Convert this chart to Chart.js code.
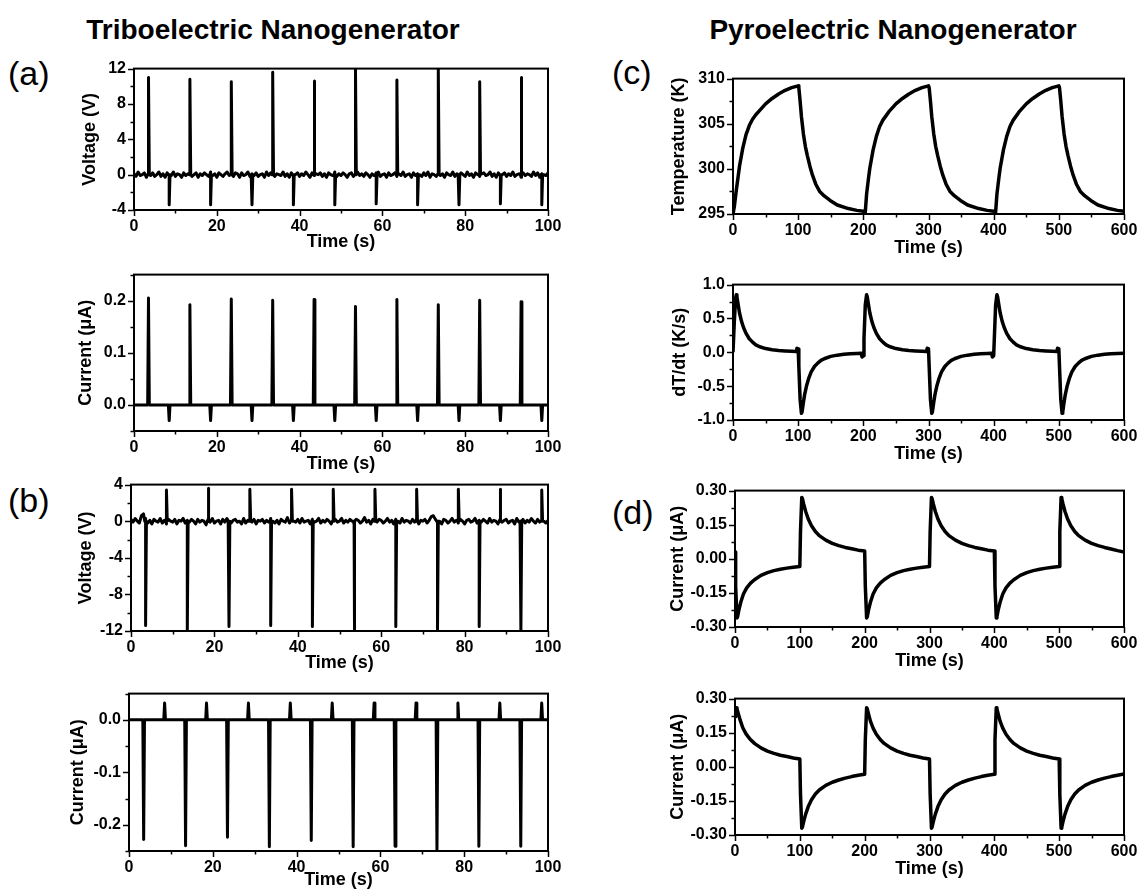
<!DOCTYPE html>
<html>
<head>
<meta charset="utf-8">
<script src="https://cdn.jsdelivr.net/npm/chart.js@4.4.1/dist/chart.umd.min.js"></script>
<style>
  body { margin: 0; background: #fff; width: 1145px; height: 890px; position: relative; overflow: hidden;
         font-family: "Liberation Sans", Arial, sans-serif; color: #000; }
  .hdr { position: absolute; font-weight: bold; font-size: 28px; transform: translate(-50%, -50%); white-space: nowrap; }
  .tag { position: absolute; font-size: 34px; transform: translateY(-50%); }
  canvas { position: absolute; }
</style>
</head>
<body>
<div class="hdr" style="left:273px; top:30px">Triboelectric Nanogenerator</div>
<div class="hdr" style="left:893px; top:30px">Pyroelectric Nanogenerator</div>
<div class="tag" style="left:8px; top:73px">(a)</div>
<div class="tag" style="left:8px; top:500px">(b)</div>
<div class="tag" style="left:612px; top:72px">(c)</div>
<div class="tag" style="left:612px; top:512px">(d)</div>

<script>
const FONT = '"Liberation Sans", Arial, sans-serif';

// tick labels
const triTimeTicks = [0, 20, 40, 60, 80, 100];
const pyroTimeTicks = [0, 100, 200, 300, 400, 500, 600];
const triVoltTicks = [-4, 0, 4, 8, 12];
const triCurTicks = [0, 0.1, 0.2];
const revVoltTicks = [-12, -8, -4, 0, 4];
const revCurTicks = [-0.2, -0.1, 0];
const tempTicks = [295, 300, 305, 310];
const rateTicks = [-1, -0.5, 0, 0.5, 1];
const pyroCurTicks = [-0.3, -0.15, 0, 0.15, 0.3];

// spike times (s)
const pulseA = [3.5, 13.5, 23.5, 33.5, 43.5, 53.5, 63.5, 73.5, 83.5, 93.5];
const pulseB = [8.5, 18.5, 28.5, 38.5, 48.5, 58.5, 68.5, 78.5, 88.5, 98.5];

// (a) triboelectric, voltage
const triVoltUp = [11.0, 10.8, 10.5, 11.6, 10.6, 12.0, 10.7, 12.0, 10.5, 11.0];
const triVoltDown = [-3.4, -3.4, -3.4, -3.4, -3.4, -3.3, -3.4, -3.4, -3.3, -3.4];
const triVoltNoise = [
  0.1,-0.2,0.3,-0.1,0.0,0.2,-0.3,0.1,-0.1,0.2, -0.2,0.0,0.3,-0.2,0.1,-0.3,0.2,0.0,-0.1,0.3,
  -0.2,0.1,0.0,-0.3,0.2,-0.1,0.1,0.3,-0.2,0.0, 0.2,-0.3,0.1,-0.1,0.2,0.0,-0.2,0.3,-0.1,0.1,
  -0.3,0.2,0.0,-0.2,0.1,0.3,-0.1,0.0,-0.2,0.2, 0.1,-0.3,0.2,-0.1,0.0,0.3,-0.2,0.1,-0.1,0.2,
  -0.2,0.0,0.1,-0.3,0.3,-0.1,0.2,0.0,-0.2,0.1, 0.0,-0.1,0.3,-0.2,0.1,-0.3,0.2,-0.1,0.0,0.2,
  -0.2,0.1,-0.1,0.3,0.0,-0.3,0.2,-0.1,0.1,0.0, 0.2,-0.2,0.1,-0.3,0.2,0.0,-0.1,0.3,-0.2,0.1,
  -0.1,0.2,0.0,-0.3,0.1,0.2,-0.2,0.0,0.3,-0.1, 0.1,-0.2,0.2,0.0,-0.3,0.1,-0.1,0.2,0.3,-0.2,
  0.0,0.1,-0.3,0.2,-0.1,0.0,0.2,-0.2,0.1,-0.1, 0.3,-0.2,0.0,0.1,-0.3,0.2,-0.1,0.1,0.0,-0.2,
  0.2,-0.1,0.3,-0.3,0.1,0.0,-0.2,0.2,-0.1,0.1, -0.3,0.2,0.0,-0.1,0.3,-0.2,0.1,-0.1,0.2,0.0,
  -0.2,0.3,-0.1,0.1,-0.3,0.2,0.0,-0.2,0.1,0.2, -0.1,0.0,0.3,-0.2,0.1,-0.3,0.2,-0.1,0.0,0.2,
  -0.2,0.1,-0.1,0.3,-0.2,0.0,0.1,-0.3,0.2,-0.1, 0.1,0.0,-0.2,0.3,-0.1,0.2,-0.3,0.1,0.0,-0.1,
  0.2];

// (a) triboelectric, current
const triCurUp = [0.205, 0.192, 0.203, 0.201, 0.202, 0.189, 0.202, 0.192, 0.201, 0.198];
const triCurDown = [-0.03, -0.03, -0.03, -0.03, -0.03, -0.03, -0.03, -0.03, -0.03, -0.03];

// (b) reversed, voltage
const revVoltDown = [-11.4, -12.0, -11.5, -11.4, -11.5, -12.0, -11.5, -12.0, -11.5, -12.0];
const revVoltUp = [3.4, 3.6, 3.5, 3.5, 3.5, 3.5, 3.5, 3.5, 3.5, 3.4];
const revVoltNoise = [
  0.2,-0.1,0.3,0.0,-0.2,0.6,0.8,0.3,-0.2,0.1, -0.3,0.2,0.0,-0.1,0.3,-0.2,0.1,-0.3,0.2,0.0,
  -0.1,0.2,-0.3,0.1,0.0,0.3,-0.2,0.1,-0.1,0.2, 0.0,-0.3,0.2,-0.1,0.1,0.0,-0.4,0.2,-0.1,0.3,
  -0.2,0.0,0.1,-0.3,0.2,-0.1,0.3,0.0,-0.2,0.1, 0.2,-0.1,0.0,-0.3,0.3,-0.2,0.1,0.0,-0.1,0.2,
  -0.3,0.1,0.0,0.2,-0.2,0.1,-0.1,0.3,0.0,-0.2, 0.1,-0.3,0.2,0.0,-0.1,0.4,-0.2,0.1,0.0,-0.1,
  0.2,-0.2,0.3,-0.1,0.0,0.1,-0.3,0.2,-0.1,0.0, 0.3,-0.2,0.1,-0.1,0.2,0.0,-0.3,0.1,0.2,-0.1,
  0.0,0.3,-0.2,0.1,-0.1,0.2,0.0,-0.3,0.2,0.1, -0.2,0.0,0.4,-0.1,0.1,-0.3,0.2,0.0,-0.1,0.2,
  0.1,-0.2,0.0,0.3,-0.1,0.1,-0.3,0.2,0.0,-0.2, 0.3,-0.1,0.1,0.0,-0.2,0.2,-0.1,0.3,-0.3,0.1,
  0.0,0.2,-0.2,0.1,0.5,0.6,0.2,-0.1,0.0,-0.3, 0.2,0.1,-0.2,0.0,0.3,-0.1,0.1,-0.2,0.2,0.0,
  -0.3,0.1,0.2,-0.1,0.0,0.3,-0.2,0.1,-0.1,0.2, 0.0,-0.2,0.3,-0.1,0.1,0.0,-0.3,0.2,-0.1,0.1,
  0.2,-0.2,0.0,0.1,-0.3,0.3,-0.1,0.0,0.2,-0.2, 0.1,-0.1,0.3,0.0,-0.2,0.2,-0.1,0.1,0.0,-0.2,
  0.1];

// (b) reversed, current
const revCurDown = [-0.228, -0.240, -0.224, -0.242, -0.230, -0.242, -0.241, -0.250, -0.241, -0.241];
const revCurUp = [0.032, 0.032, 0.032, 0.032, 0.032, 0.032, 0.032, 0.032, 0.032, 0.032];

// (c) temperature (s, K)
const tempK = [
  [0,295.0],[2,295.8],[5,297.6],[8,299.2],[10,300.3],[12,301.1],[15,302.3],[20,303.8],[25,304.8],[30,305.5],
  [35,306.0],[40,306.4],[50,307.2],[60,307.8],[70,308.3],[80,308.7],[90,309.0],[100,309.2],
  [101,309.0],[103,307.5],[105,305.8],[108,303.9],[111,302.5],[114,301.5],[118,300.3],[122,299.3],[127,298.3],
  [133,297.5],[140,297.0],[149,296.5],[160,296.0],[177,295.6],[190,295.4],[200,295.3],
  [203,295.2],[205,297.2],[208,299.0],[210,300.1],[212,300.9],[215,302.1],[220,303.6],[225,304.7],[230,305.4],
  [235,305.9],[240,306.4],[250,307.2],[260,307.8],[270,308.3],[280,308.7],[290,309.0],[300,309.2],
  [301,309.0],[303,307.5],[305,305.8],[308,303.9],[311,302.5],[314,301.5],[318,300.3],[322,299.3],[327,298.3],
  [333,297.5],[340,297.0],[349,296.5],[360,296.0],[377,295.6],[390,295.4],[400,295.3],
  [403,295.2],[405,297.2],[408,299.0],[410,300.1],[412,300.9],[415,302.1],[420,303.6],[425,304.7],[430,305.4],
  [435,305.9],[440,306.4],[450,307.2],[460,307.8],[470,308.3],[480,308.7],[490,309.0],[500,309.2],
  [501,309.0],[503,307.5],[505,305.8],[508,303.9],[511,302.5],[514,301.5],[518,300.3],[522,299.3],[527,298.3],
  [533,297.5],[540,297.0],[549,296.5],[560,296.0],[577,295.6],[590,295.4],[600,295.3]
];

// (c) dT/dt (s, K/s)
const rateKs = [
  [0,0.0],[2,0.45],[4,0.8],[5,0.85],[6,0.82],[8,0.7],[10,0.58],[13,0.46],[16,0.37],[20,0.28],[25,0.2],
  [30,0.15],[35,0.11],[40,0.085],[50,0.055],[60,0.037],[70,0.027],[80,0.02],[90,0.015],[97,0.012],[98,0.06],[100,0.05],
  [101,-0.2],[103,-0.7],[105,-0.9],[106,-0.88],[108,-0.74],[110,-0.62],[113,-0.49],[116,-0.39],[120,-0.29],[125,-0.21],
  [130,-0.16],[135,-0.12],[140,-0.095],[150,-0.06],[160,-0.042],[170,-0.03],[180,-0.022],[190,-0.017],[197,-0.013],[198,-0.07],[200,-0.05],
  [201,0.2],[203,0.7],[205,0.85],[206,0.82],[208,0.7],[210,0.58],[213,0.46],[216,0.37],[220,0.28],[225,0.2],
  [230,0.15],[235,0.11],[240,0.085],[250,0.055],[260,0.037],[270,0.027],[280,0.02],[290,0.015],[297,0.012],[298,0.06],[300,0.05],
  [301,-0.2],[303,-0.7],[305,-0.9],[306,-0.88],[308,-0.74],[310,-0.62],[313,-0.49],[316,-0.39],[320,-0.29],[325,-0.21],
  [330,-0.16],[335,-0.12],[340,-0.095],[350,-0.06],[360,-0.042],[370,-0.03],[380,-0.022],[390,-0.017],[397,-0.013],[398,-0.07],[400,-0.05],
  [401,0.2],[403,0.7],[405,0.85],[406,0.82],[408,0.7],[410,0.58],[413,0.46],[416,0.37],[420,0.28],[425,0.2],
  [430,0.15],[435,0.11],[440,0.085],[450,0.055],[460,0.037],[470,0.027],[480,0.02],[490,0.015],[497,0.012],[498,0.06],[500,0.05],
  [501,-0.2],[503,-0.7],[505,-0.9],[506,-0.88],[508,-0.74],[510,-0.62],[513,-0.49],[516,-0.39],[520,-0.29],[525,-0.21],
  [530,-0.16],[535,-0.12],[540,-0.095],[550,-0.06],[560,-0.042],[570,-0.03],[580,-0.022],[590,-0.017],[600,-0.015]
];

// (d) pyroelectric current, forward (s, uA)
const pyroCurFwd = [
  [0,0.03],[1,-0.12],[3,-0.26],[4,-0.255],[6,-0.225],[9,-0.19],[13,-0.155],[18,-0.128],[24,-0.107],[30,-0.092],
  [40,-0.073],[50,-0.061],[60,-0.052],[70,-0.046],[80,-0.041],[90,-0.037],[100,-0.034],
  [101,0.12],[103,0.27],[104,0.265],[106,0.24],[109,0.208],[113,0.175],[118,0.145],[124,0.12],[130,0.102],
  [140,0.082],[150,0.068],[160,0.058],[170,0.05],[180,0.044],[190,0.038],[200,0.034],
  [201,-0.12],[203,-0.26],[204,-0.255],[206,-0.225],[209,-0.19],[213,-0.155],[218,-0.128],[224,-0.107],[230,-0.092],
  [240,-0.073],[250,-0.061],[260,-0.052],[270,-0.046],[280,-0.041],[290,-0.037],[300,-0.034],
  [301,0.12],[303,0.27],[304,0.265],[306,0.24],[309,0.208],[313,0.175],[318,0.145],[324,0.12],[330,0.102],
  [340,0.082],[350,0.068],[360,0.058],[370,0.05],[380,0.044],[390,0.038],[400,0.034],
  [401,-0.12],[403,-0.26],[404,-0.255],[406,-0.225],[409,-0.19],[413,-0.155],[418,-0.128],[424,-0.107],[430,-0.092],
  [440,-0.073],[450,-0.061],[460,-0.052],[470,-0.046],[480,-0.041],[490,-0.037],[500,-0.034],
  [501,0.12],[503,0.27],[504,0.265],[506,0.24],[509,0.208],[513,0.175],[518,0.145],[524,0.12],[530,0.102],
  [540,0.082],[550,0.068],[560,0.058],[570,0.05],[580,0.043],[590,0.036],[600,0.03]
];

// (d) pyroelectric current, reversed connection (s, uA)
const pyroCurRev = [
  [0,0.22],[1,0.25],[2,0.26],[3,0.255],[5,0.235],[8,0.205],[12,0.172],[17,0.145],[23,0.122],[30,0.103],
  [40,0.083],[50,0.069],[60,0.059],[70,0.051],[80,0.045],[90,0.039],[100,0.034],
  [101,-0.12],[103,-0.27],[104,-0.265],[106,-0.24],[109,-0.208],[113,-0.175],[118,-0.145],[124,-0.12],[130,-0.102],
  [140,-0.082],[150,-0.068],[160,-0.058],[170,-0.05],[180,-0.043],[190,-0.037],[200,-0.033],
  [201,0.12],[203,0.26],[204,0.255],[206,0.232],[209,0.2],[213,0.17],[218,0.143],[224,0.12],[230,0.103],
  [240,0.083],[250,0.069],[260,0.059],[270,0.051],[280,0.045],[290,0.039],[300,0.034],
  [301,-0.12],[303,-0.27],[304,-0.265],[306,-0.24],[309,-0.208],[313,-0.175],[318,-0.145],[324,-0.12],[330,-0.102],
  [340,-0.082],[350,-0.068],[360,-0.058],[370,-0.05],[380,-0.043],[390,-0.037],[400,-0.033],
  [401,0.12],[403,0.26],[404,0.255],[406,0.232],[409,0.2],[413,0.17],[418,0.143],[424,0.12],[430,0.103],
  [440,0.083],[450,0.069],[460,0.059],[470,0.051],[480,0.045],[490,0.039],[500,0.034],
  [501,-0.12],[503,-0.27],[504,-0.265],[506,-0.24],[509,-0.208],[513,-0.175],[518,-0.145],[524,-0.12],[530,-0.102],
  [540,-0.082],[550,-0.068],[560,-0.058],[570,-0.05],[580,-0.043],[590,-0.037],[600,-0.032]
];

// baseline + narrow pulses -> sorted point list
function pulseTrain(baseline, upT, upV, downT, downV) {
  const n = baseline.length;
  const pts = baseline.map((v, i) => [i * 100 / (n - 1), v]);
  upT.forEach((t, i) => pts.push([t - 0.2, 0], [t, upV[i]], [t + 0.2, 0]));
  downT.forEach((t, i) => pts.push([t - 0.2, 0], [t, downV[i]], [t + 0.2, 0]));
  return pts.sort((a, b) => a[0] - b[0]);
}

// box frame + outward major/minor ticks
const frame = {
  id: 'frame',
  afterDraw(chart, args, o) {
    const { ctx, chartArea: a, scales: { x, y } } = chart;
    ctx.save();
    ctx.strokeStyle = '#000';
    ctx.lineWidth = 1.5;
    const isMajor = (v, m) => Math.abs(v / m - Math.round(v / m)) < 1e-6;
    for (let k = 0; ; k++) {
      const v = x.min + k * o.xMinor;
      if (v > x.max + 1e-9) break;
      const px = Math.round(x.getPixelForValue(v)) + 0.5;
      ctx.beginPath(); ctx.moveTo(px, a.bottom);
      ctx.lineTo(px, a.bottom + (isMajor(v, o.xMajor) ? 6 : 3.5)); ctx.stroke();
    }
    for (let k = 0; ; k++) {
      const v = y.min + k * o.yMinor;
      if (v > y.max + 1e-9) break;
      const py = Math.round(y.getPixelForValue(v)) + 0.5;
      ctx.beginPath(); ctx.moveTo(a.left, py);
      ctx.lineTo(a.left - (isMajor(v, o.yMajor) ? 6 : 3.5), py); ctx.stroke();
    }
    ctx.lineWidth = 2;
    ctx.strokeRect(a.left, a.top, a.right - a.left, a.bottom - a.top);
    ctx.restore();
  }
};

function makePanel(p) {
  const lh = 18 * 1.2;
  const cl = p.yTitleX - 14, ct = p.box.t - 14, cr = p.box.r + 30, cb = p.xTitleY + 14;
  const cv = document.createElement('canvas');
  cv.width = cr - cl; cv.height = cb - ct;
  cv.style.left = cl + 'px'; cv.style.top = ct + 'px';
  document.body.appendChild(cv);
  const yw = p.box.l - cl, xh = cb - p.box.b;
  const tickFont = { family: FONT, size: 16, weight: 'bold' };
  const titleFont = { family: FONT, size: 18, weight: 'bold' };
  const xMajor = p.xTicks[1] - p.xTicks[0], yMajor = p.yTicks[1] - p.yTicks[0];
  new Chart(cv, {
    type: 'line',
    data: {
      datasets: [{
        data: p.pts.map(q => ({ x: q[0], y: q[1] })),
        borderColor: '#000', borderWidth: p.lw, pointRadius: 0,
        borderJoinStyle: 'round', tension: 0
      }]
    },
    options: {
      responsive: false, animation: false, events: [],
      layout: { padding: { top: 14, right: 30, left: 0, bottom: 0 } },
      plugins: {
        legend: { display: false }, tooltip: { enabled: false },
        frame: { xMinor: xMajor / 2, xMajor: xMajor, yMinor: yMajor / 2, yMajor: yMajor }
      },
      scales: {
        x: {
          type: 'linear', min: p.xTicks[0], max: p.xTicks[p.xTicks.length - 1],
          afterBuildTicks: s => { s.ticks = p.xTicks.map(v => ({ value: v })); },
          afterFit: s => { s.height = xh; },
          grid: { drawOnChartArea: false, drawTicks: false }, border: { display: false },
          ticks: { padding: 7, color: '#000', font: tickFont, maxRotation: 0, autoSkip: false },
          title: { display: true, text: 'Time (s)', color: '#000', font: titleFont, padding: { top: 0, bottom: 14 - lh / 2 } }
        },
        y: {
          min: p.yMin, max: p.yMax,
          afterBuildTicks: s => { s.ticks = p.yTicks.map(v => ({ value: v })); },
          afterFit: s => { s.width = yw; },
          grid: { drawOnChartArea: false, drawTicks: false }, border: { display: false },
          ticks: {
            padding: 8, color: '#000', font: tickFont, autoSkip: false,
            callback: v => (Math.abs(v) < 1e-9 ? 0 : v).toFixed(p.yDec)
          },
          title: { display: true, text: p.yLabel, color: '#000', font: titleFont, padding: { top: 14 - lh / 2, bottom: 0 } }
        }
      }
    },
    plugins: [frame]
  });
}

makePanel({ box: { l: 134, t: 65, r: 548, b: 210 }, yTitleX: 90, xTitleY: 242,
  pts: pulseTrain(triVoltNoise, pulseA, triVoltUp, pulseB, triVoltDown), lw: 3,
  xTicks: triTimeTicks, yTicks: triVoltTicks, yMin: -4, yMax: 12, yDec: 0, yLabel: 'Voltage (V)' });

makePanel({ box: { l: 134, t: 271, r: 548, b: 431 }, yTitleX: 86, xTitleY: 464,
  pts: pulseTrain([0, 0], pulseA, triCurUp, pulseB, triCurDown), lw: 3,
  xTicks: triTimeTicks, yTicks: triCurTicks, yMin: -0.05, yMax: 0.25, yDec: 1, yLabel: 'Current (\u03bcA)' });

makePanel({ box: { l: 131, t: 481, r: 548, b: 631 }, yTitleX: 86, xTitleY: 663,
  pts: pulseTrain(revVoltNoise, pulseA, revVoltDown, pulseB, revVoltUp), lw: 3,
  xTicks: triTimeTicks, yTicks: revVoltTicks, yMin: -12, yMax: 4, yDec: 0, yLabel: 'Voltage (V)' });

makePanel({ box: { l: 129, t: 690, r: 548, b: 851 }, yTitleX: 78, xTitleY: 880,
  pts: pulseTrain([0, 0], pulseA, revCurDown, pulseB, revCurUp), lw: 3,
  xTicks: triTimeTicks, yTicks: revCurTicks, yMin: -0.25, yMax: 0.05, yDec: 1, yLabel: 'Current (\u03bcA)' });

makePanel({ box: { l: 733, t: 75, r: 1124, b: 214 }, yTitleX: 679, xTitleY: 248,
  pts: tempK, lw: 3.5,
  xTicks: pyroTimeTicks, yTicks: tempTicks, yMin: 295, yMax: 310, yDec: 0, yLabel: 'Temperature (K)' });

makePanel({ box: { l: 733, t: 281, r: 1124, b: 420 }, yTitleX: 680, xTitleY: 454,
  pts: rateKs, lw: 3.5,
  xTicks: pyroTimeTicks, yTicks: rateTicks, yMin: -1, yMax: 1, yDec: 1, yLabel: 'dT/dt (K/s)' });

makePanel({ box: { l: 735, t: 487, r: 1124, b: 627 }, yTitleX: 678, xTitleY: 661,
  pts: pyroCurFwd, lw: 3.5,
  xTicks: pyroTimeTicks, yTicks: pyroCurTicks, yMin: -0.3, yMax: 0.3, yDec: 2, yLabel: 'Current (\u03bcA)' });

makePanel({ box: { l: 735, t: 695, r: 1124, b: 835 }, yTitleX: 678, xTitleY: 869,
  pts: pyroCurRev, lw: 3.5,
  xTicks: pyroTimeTicks, yTicks: pyroCurTicks, yMin: -0.3, yMax: 0.3, yDec: 2, yLabel: 'Current (\u03bcA)' });
</script>
</body>
</html>
